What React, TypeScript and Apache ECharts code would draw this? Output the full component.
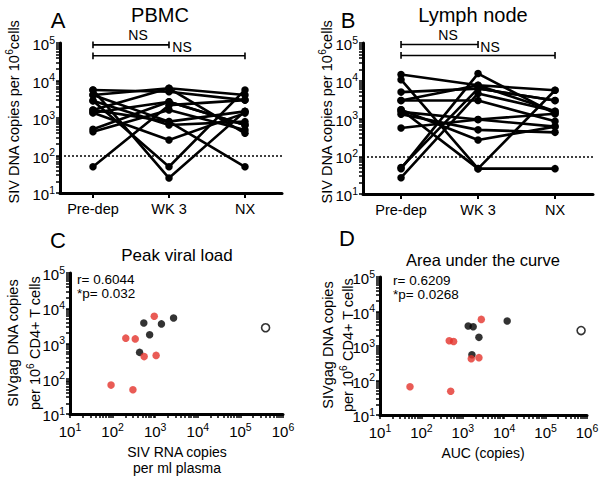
import React, { useEffect, useRef } from 'react';
import * as echarts from 'echarts';

// ---------- data ----------
const timepoints = ['Pre-dep', 'WK 3', 'NX'];

// Panel A: PBMC (SIV DNA copies per 10^6 cells), one entry per animal
const pbmcPreDep = [5600, 2900, 50, 4100, 5600, 1630, 1380, 500, 430, 2900, 1630, 4100, 1380];
const pbmcWk3 = [25, 50, 2200, 6200, 5000, 800, 260, 2700, 1630, 650, 6200, 800, 2700];
const pbmcNx = [1500, 5600, 3000, 4100, 3000, 50, 1350, 650, 480, 800, 390, 1500, 650];

// Panel B: Lymph node
const lnPreDep = [14700, 10700, 47, 50, 27, 5000, 3000, 1700, 1500, 1300, 560, 1700, 3000];
const lnWk3 = [7600, 47, 15500, 6200, 4600, 6200, 3000, 47, 940, 500, 940, 270, 7600];
const lnNx = [5600, 5600, 1340, 3000, 1560, 3000, 850, 47, 1340, 430, 610, 610, 1560];

const detectionLimit = 100;

// Panel C: peak viral load vs SIVgag DNA
const peakBlackX = [540, 1400, 2700, 740, 430];
const peakBlackY = [3800, 3600, 5300, 1780, 560];
const peakRedX = [950, 204, 340, 550, 1050, 92, 300];
const peakRedY = [5900, 1420, 1350, 425, 460, 66, 49];
const peakOpenX = [390000];
const peakOpenY = [2800];

// Panel D: AUC vs SIVgag DNA
const aucBlackX = [1350, 1780, 2450, 1660, 11800];
const aucBlackY = [3800, 3600, 1780, 560, 5300];
const aucRedX = [2800, 470, 600, 1600, 2450, 53, 510];
const aucRedY = [5900, 1420, 1350, 425, 460, 66, 49];
const aucOpenX = [720000];
const aucOpenY = [2800];

// ---------- helpers ----------
const FONT = '"Liberation Sans", Arial, Helvetica, sans-serif';
const RED = '#e3322b';
const lg = (v: number) => Math.log10(v);

function logTicks(from: number, to: number) {
  const out: number[] = [];
  for (let d = from; d < to; d++) for (let k = 1; k <= 9; k++) out.push(d + Math.log10(k));
  out.push(to);
  return out;
}

const supRich = {
  b: { fontSize: 15, lineHeight: 18, verticalAlign: 'bottom', color: '#000', fontFamily: FONT },
  s: { fontSize: 10.5, lineHeight: 12, verticalAlign: 'top', color: '#000', fontFamily: FONT },
};
const powLabel = (v: number) => `{b|10}{s|${Math.round(v)}}`;

function logAxis(gridIndex: number, min: number, max: number, isX: boolean) {
  return {
    type: 'value',
    gridIndex,
    min,
    max,
    interval: 1,
    axisLine: { show: true, onZero: false, lineStyle: { color: '#000', width: 3 } },
    axisTick: {
      show: true,
      customValues: logTicks(min, max),
      length: 4,
      lineStyle: { color: '#000', width: 1.5 },
    },
    axisLabel: { formatter: powLabel, rich: supRich, margin: isX ? 7 : 5, hideOverlap: false },
    splitLine: { show: false },
  };
}

function catAxis(gridIndex: number, min: number, max: number) {
  return {
    type: 'value',
    gridIndex,
    min,
    max,
    axisLine: { show: true, onZero: false, lineStyle: { color: '#000', width: 3 } },
    axisTick: { show: true, customValues: [0, 1, 2], length: 5, lineStyle: { color: '#000', width: 2 } },
    axisLabel: {
      customValues: [0, 1, 2],
      formatter: (v: number) => timepoints[Math.round(v)],
      fontSize: 14.5,
      color: '#000',
      fontFamily: FONT,
      margin: 8,
    },
    splitLine: { show: false },
  };
}

function subjectLines(gridIndex: number, pre: number[], wk: number[], nx: number[]) {
  return pre.map((p, i) => ({
    type: 'line',
    xAxisIndex: gridIndex,
    yAxisIndex: gridIndex,
    data: [
      [0, lg(p)],
      [1, lg(wk[i])],
      [2, lg(nx[i])],
    ],
    symbol: 'circle',
    symbolSize: 7.5,
    itemStyle: { color: '#000' },
    lineStyle: { color: '#000', width: 2.6 },
    silent: true,
    markLine:
      i === 0
        ? {
            silent: true,
            symbol: 'none',
            label: { show: false },
            lineStyle: { color: '#000', type: [2, 2], width: 1.5 },
            data: [{ yAxis: lg(detectionLimit) }],
          }
        : undefined,
  }));
}

function bracket(gridIndex: number, x0: number, x1: number, y: number) {
  const c = 0.09;
  return {
    type: 'line',
    xAxisIndex: gridIndex,
    yAxisIndex: gridIndex,
    clip: false,
    silent: true,
    symbol: 'none',
    lineStyle: { color: '#000', width: 1.6 },
    data: [
      [x0, y - c],
      [x0, y + c],
      [x0, y],
      [x1, y],
      [x1, y + c],
      [x1, y - c],
    ],
  };
}

function scatter(gridIndex: number, xs: number[], ys: number[], color: string, open = false) {
  return {
    type: 'scatter',
    xAxisIndex: gridIndex,
    yAxisIndex: gridIndex,
    symbol: 'circle',
    symbolSize: open ? 8 : 7.5,
    silent: true,
    itemStyle: open
      ? { color: '#fff', borderColor: '#000', borderWidth: 1.6 }
      : { color },
    data: xs.map((x, i) => [lg(x), lg(ys[i])]),
  };
}

function txt(text: string, x: number, y: number, fontSize: number, opts: any = {}) {
  return {
    type: 'text',
    x,
    y,
    rotation: opts.rotation || 0,
    silent: true,
    style: {
      text,
      fill: '#000',
      fontSize,
      fontFamily: FONT,
      textAlign: opts.align || 'center',
      align: opts.align || 'center',
      textVerticalAlign: 'middle',
      verticalAlign: 'middle',
      rich: opts.rich,
    },
  };
}

function titleRich(fs: number) {
  return {
    n: { fontSize: fs, lineHeight: fs + 3, verticalAlign: 'bottom', fontFamily: FONT, color: '#000' },
    s: { fontSize: fs * 0.7, lineHeight: 12, verticalAlign: 'top', fontFamily: FONT, color: '#000' },
  };
}

export default function App() {
  const ref = useRef<HTMLDivElement>(null);

  useEffect(() => {
    if (!ref.current) return;
    const chart = echarts.init(ref.current, undefined, { renderer: 'svg' });
    const R = Math.PI / 2;
    const option: any = {
      animation: false,
      backgroundColor: '#fff',
      grid: [
        { left: 60, top: 43, width: 222, height: 150, containLabel: false, outerBoundsMode: 'none' },
        { left: 363, top: 43, width: 230, height: 151, containLabel: false, outerBoundsMode: 'none' },
        { left: 70, top: 273, width: 213, height: 141, containLabel: false, outerBoundsMode: 'none' },
        { left: 380, top: 277, width: 207, height: 138, containLabel: false, outerBoundsMode: 'none' },
      ],
      xAxis: [catAxis(0, -0.434, 2.487), catAxis(1, -0.494, 2.493), logAxis(2, 1, 6, true), logAxis(3, 1, 6, true)],
      yAxis: [logAxis(0, 1, 5, false), logAxis(1, 1, 5, false), logAxis(2, 1, 5, false), logAxis(3, 1, 5, false)],
      series: [
        ...subjectLines(0, pbmcPreDep, pbmcWk3, pbmcNx),
        ...subjectLines(1, lnPreDep, lnWk3, lnNx),
        bracket(0, 0, 1, 4.95),
        bracket(0, 0, 2, 4.66),
        bracket(1, 0, 1, 4.96),
        bracket(1, 0, 2, 4.67),
        scatter(2, peakBlackX, peakBlackY, '#000'),
        scatter(2, peakRedX, peakRedY, RED),
        scatter(2, peakOpenX, peakOpenY, '#000', true),
        scatter(3, aucBlackX, aucBlackY, '#000'),
        scatter(3, aucRedX, aucRedY, RED),
        scatter(3, aucOpenX, aucOpenY, '#000', true),
      ],
      graphic: [
        txt('A', 58, 20, 22),
        txt('PBMC', 160, 15, 20),
        txt('{n|SIV DNA copies per 10}{s|6}{n|cells}', 13, 112, 14.5, { rotation: R, rich: titleRich(14.5) }),
        txt('NS', 138, 35, 14),
        txt('NS', 182, 47, 14),
        txt('B', 348, 20, 22),
        txt('Lymph node', 473, 15, 20),
        txt('{n|SIV DNA copies per 10}{s|6}{n|cells}', 326, 112, 14.5, { rotation: R, rich: titleRich(14.5) }),
        txt('NS', 448, 35, 14),
        txt('NS', 490, 47, 14),
        txt('C', 58, 240, 22),
        txt('Peak viral load', 177, 255, 17),
        txt('r= 0.6044', 77, 279, 13.5, { align: 'left' }),
        txt('*p= 0.032', 77, 293, 13.5, { align: 'left' }),
        txt('SIVgag DNA copies', 13, 343, 14.5, { rotation: R }),
        txt('{n|per 10}{s|6}{n| CD4+ T cells}', 34, 343, 14.5, { rotation: R, rich: titleRich(14.5) }),
        txt('SIV RNA copies', 177, 452, 14),
        txt('per ml plasma', 177, 468, 14),
        txt('D', 347, 238, 22),
        txt('Area under the curve', 483, 260, 16.5),
        txt('r= 0.6209', 393, 280, 13.5, { align: 'left' }),
        txt('*p= 0.0268', 393, 294, 13.5, { align: 'left' }),
        txt('SIVgag DNA copies', 328, 345, 14.5, { rotation: R }),
        txt('{n|per 10}{s|6}{n| CD4+ T cells}', 347, 345, 14.5, { rotation: R, rich: titleRich(14.5) }),
        txt('AUC (copies)', 483, 453, 14),
      ],
    };
    chart.setOption(option);
    return () => chart.dispose();
  }, []);

  return (
    <div
      ref={ref}
      style={{ position: 'absolute', left: 0, top: 0, width: 600, height: 477, background: '#fff' }}
    />
  );
}
